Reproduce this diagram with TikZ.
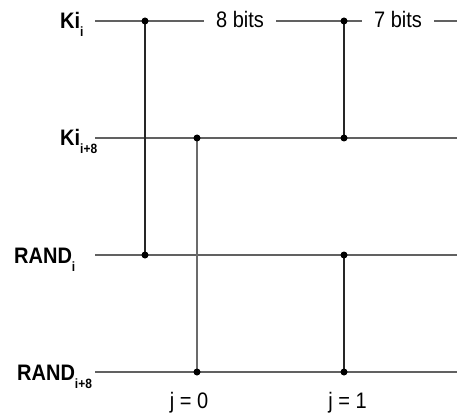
\documentclass[tikz,border=0pt]{standalone}
\usepackage{fontspec}
\usepackage{graphicx}
\setmainfont{Liberation Sans}
\newcommand{\bigtxt}{\fontsize{20}{22}\selectfont}
\newcommand{\subtxt}{\fontsize{12}{13}\selectfont\bfseries}
\newcommand{\tall}[1]{\scalebox{1}[1.12]{#1}}
\newcommand{\lbl}[2]{\bigtxt\tall{\textbf{#1}}\raisebox{-8pt}{\tall{\subtxt #2}}}
\begin{document}
\begin{tikzpicture}[x=1pt,y=-1pt,
  wire/.style={draw=black!62,line width=1.4pt},
  tap/.style={draw=black!85,line width=1.3pt},
  taplight/.style={draw=black!58,line width=1.4pt},
  dot/.style={circle,fill=black,inner sep=0pt,minimum size=7pt},
  rowlbl/.style={anchor=base west,inner sep=0pt},
  bits/.style={font=\bigtxt,inner xsep=12pt,inner ysep=0pt,anchor=base},
  jlbl/.style={font=\bigtxt,inner sep=0pt,anchor=base}]
  \useasboundingbox[fill=white] (0,0) rectangle (457,414);

  % row labels
  \node[rowlbl] (lk)   at (60,29)  {\lbl{Ki}{i}};
  \node[rowlbl] (lk8)  at (60,146) {\lbl{Ki}{i+8}};
  \node[rowlbl] (lr)   at (14,263) {\lbl{RAND}{i}};
  \node[rowlbl] (lr8)  at (17,380) {\lbl{RAND}{i+8}};

  % wire ends
  \coordinate (k0)  at (95,21);   \coordinate (kE)  at (457,21);
  \coordinate (k80) at (95,138);  \coordinate (k8E) at (457,138);
  \coordinate (r0)  at (95,255);  \coordinate (rE)  at (457,255);
  \coordinate (r80) at (95,372);  \coordinate (r8E) at (457,372);

  % junctions
  \coordinate (a1) at (145,21);  \coordinate (a2) at (145,255);
  \coordinate (b1) at (197,138); \coordinate (b2) at (197,372);
  \coordinate (c1) at (344,21);  \coordinate (c2) at (344,138);
  \coordinate (d1) at (344,255); \coordinate (d2) at (344,372);

  % bit-width labels on the top wire
  \node[bits] (b8) at (240,27.5) {\tall{8 bits}};
  \node[bits] (b7) at (398,27.5) {\tall{7 bits}};

  % horizontal wires
  \path[wire] (k0) -- (b8.west |- k0);
  \path[wire] (b8.east |- k0) -- (b7.west |- k0);
  \path[wire] (b7.east |- k0) -- (kE);
  \path[wire] (k80) -- (k8E);
  \path[wire] (r0) -- (rE);
  \path[wire] (r80) -- (r8E);

  % vertical taps
  \path[tap] (a1) -- (a2);
  \path[taplight] (b1) -- (b2);
  \path[tap] (c1) -- (c2);
  \path[tap] (d1) -- (d2);

  \foreach \p in {a1,a2,b1,b2,c1,c2,d1,d2} \node[dot] at (\p) {};

  % round labels
  \node[jlbl] (j0) at (189,408) {\tall{j = 0}};
  \node[jlbl] (j1) at (347.5,408) {\tall{j = 1}};
\end{tikzpicture}
\end{document}
